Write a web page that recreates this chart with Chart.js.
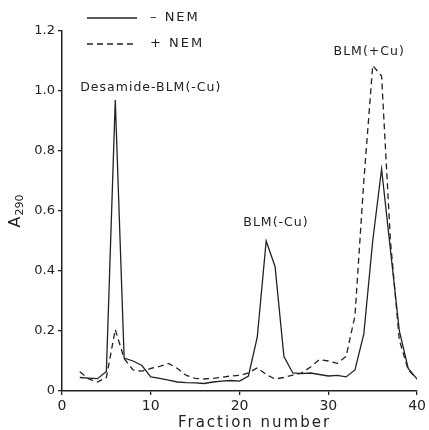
<!DOCTYPE html>
<html>
<head>
<meta charset="utf-8">
<script src="https://cdn.jsdelivr.net/npm/chart.js@4.4.1/dist/chart.umd.min.js"></script>
<style>
  html, body { margin: 0; padding: 0; background: #fff; }
  #wrap { width: 429px; height: 430px; }
</style>
</head>
<body>
<div id="wrap"><canvas id="myChart" width="429" height="430"></canvas></div>
<script>
// fraction numbers and A290 readings
const fractions = [2, 3, 4, 5, 6, 7, 8, 9, 10, 11, 12, 13, 14, 15, 16, 17, 18, 19, 20, 21,
  22, 23, 24, 25, 26, 27, 28, 29, 30, 31, 32, 33, 34, 35, 36, 37, 38, 39, 40];

const minusNEM = [0.045, 0.043, 0.041, 0.065, 0.97, 0.11, 0.1, 0.085, 0.047, 0.042,
  0.036, 0.03, 0.028, 0.027, 0.025, 0.03, 0.033, 0.035, 0.033, 0.05,
  0.18, 0.5, 0.415, 0.115, 0.06, 0.058, 0.06, 0.055, 0.05, 0.052,
  0.047, 0.07, 0.19, 0.5, 0.74, 0.47, 0.2, 0.075, 0.04];

const plusNEM = [0.064, 0.04, 0.03, 0.045, 0.205, 0.108, 0.07, 0.066, 0.075, 0.082,
  0.092, 0.075, 0.052, 0.042, 0.04, 0.042, 0.046, 0.05, 0.052, 0.06,
  0.077, 0.055, 0.04, 0.045, 0.053, 0.06, 0.08, 0.105, 0.1, 0.092,
  0.115, 0.25, 0.7, 1.085, 1.05, 0.5, 0.17, 0.07, 0.04];

const yTicks = [0, 0.2, 0.4, 0.6, 0.8, 1.0, 1.2];
const xTicks = [0, 10, 20, 30, 40];

const peakLabels = [
  { text: "Desamide-BLM(-Cu)", x: 10, y: 1.012 },
  { text: "BLM(-Cu)", x: 24.1, y: 0.561 },
  { text: "BLM(+Cu)", x: 34.6, y: 1.13 }
];

const ink = "#222";
const font = "'DejaVu Sans', sans-serif";

function toPoints(xs, ys) {
  return xs.map((x, i) => ({ x: x, y: ys[i] }));
}

const annotations = {
  id: "annotations",
  afterDraw(chart) {
    const ctx = chart.ctx;
    const xs = chart.scales.x;
    const ys = chart.scales.y;
    const area = chart.chartArea;
    ctx.save();
    ctx.fillStyle = ink;
    ctx.strokeStyle = ink;
    ctx.textBaseline = "middle";

    // peak names
    ctx.font = "12.5px " + font;
    ctx.letterSpacing = "1px";
    ctx.textAlign = "center";
    peakLabels.forEach((p) => {
      ctx.fillText(p.text, xs.getPixelForValue(p.x), ys.getPixelForValue(p.y));
    });

    // legend
    ctx.lineWidth = 1.3;
    ctx.beginPath();
    ctx.moveTo(area.left + 25, area.top - 13);
    ctx.lineTo(area.left + 75, area.top - 13);
    ctx.stroke();
    ctx.setLineDash([6, 4]);
    ctx.beginPath();
    ctx.moveTo(area.left + 25, area.top + 13);
    ctx.lineTo(area.left + 75, area.top + 13);
    ctx.stroke();
    ctx.setLineDash([]);
    ctx.font = "13px " + font;
    ctx.letterSpacing = "2px";
    ctx.textAlign = "left";
    ctx.fillText("\u2013 NEM", area.left + 88, area.top - 13);
    ctx.fillText("+ NEM", area.left + 88, area.top + 13);

    // x title
    ctx.font = "15px " + font;
    ctx.letterSpacing = "2px";
    ctx.textAlign = "center";
    ctx.fillText("Fraction number", area.left + (area.right - area.left) / 2 + 15, 423);

    // y title
    ctx.translate(17, (area.top + area.bottom) / 2);
    ctx.rotate(-Math.PI / 2);
    ctx.letterSpacing = "0px";
    ctx.textAlign = "left";
    ctx.font = "16px " + font;
    const aw = ctx.measureText("A").width;
    ctx.font = "11px " + font;
    const sw = ctx.measureText("290").width;
    const start = -(aw + sw + 1) / 2;
    ctx.font = "16px " + font;
    ctx.fillText("A", start, -1);
    ctx.font = "11px " + font;
    ctx.fillText("290", start + aw + 1, 3);
    ctx.restore();
  }
};

const chart = new Chart(document.getElementById("myChart"), {
  type: "line",
  data: {
    datasets: [
      {
        label: "- NEM",
        data: toPoints(fractions, minusNEM),
        borderColor: ink,
        borderWidth: 1.3,
        pointRadius: 0,
        tension: 0,
        fill: false
      },
      {
        label: "+ NEM",
        data: toPoints(fractions, plusNEM),
        borderColor: ink,
        borderWidth: 1.3,
        borderDash: [6, 4],
        pointRadius: 0,
        tension: 0,
        fill: false
      }
    ]
  },
  options: {
    responsive: false,
    animation: false,
    layout: { padding: { top: 31, right: 5, left: 0, bottom: 0 } },
    plugins: {
      legend: { display: false },
      tooltip: { enabled: false }
    },
    scales: {
      x: {
        type: "linear",
        min: 0,
        max: 40,
        afterBuildTicks: (scale) => { scale.ticks = xTicks.map((v) => ({ value: v })); },
        afterFit: (scale) => { scale.height = 39; },
        grid: { drawOnChartArea: false, drawTicks: true, tickLength: 4, color: ink, lineWidth: 1.3 },
        border: { display: true, color: ink, width: 1.5 },
        ticks: {
          color: ink,
          font: { family: font, size: 14 },
          padding: 3,
          maxRotation: 0
        }
      },
      y: {
        type: "linear",
        min: 0,
        max: 1.2,
        afterBuildTicks: (scale) => { scale.ticks = yTicks.map((v) => ({ value: v })); },
        afterFit: (scale) => { scale.width = 62; },
        grid: { drawOnChartArea: false, drawTicks: true, tickLength: 4, color: ink, lineWidth: 1.3 },
        border: { display: true, color: ink, width: 1.5 },
        ticks: {
          color: ink,
          font: { family: font, size: 13 },
          padding: 3,
          callback: (v) => (v === 0 ? "0" : v.toFixed(1))
        }
      }
    }
  },
  plugins: [annotations]
});
</script>
</body>
</html>
